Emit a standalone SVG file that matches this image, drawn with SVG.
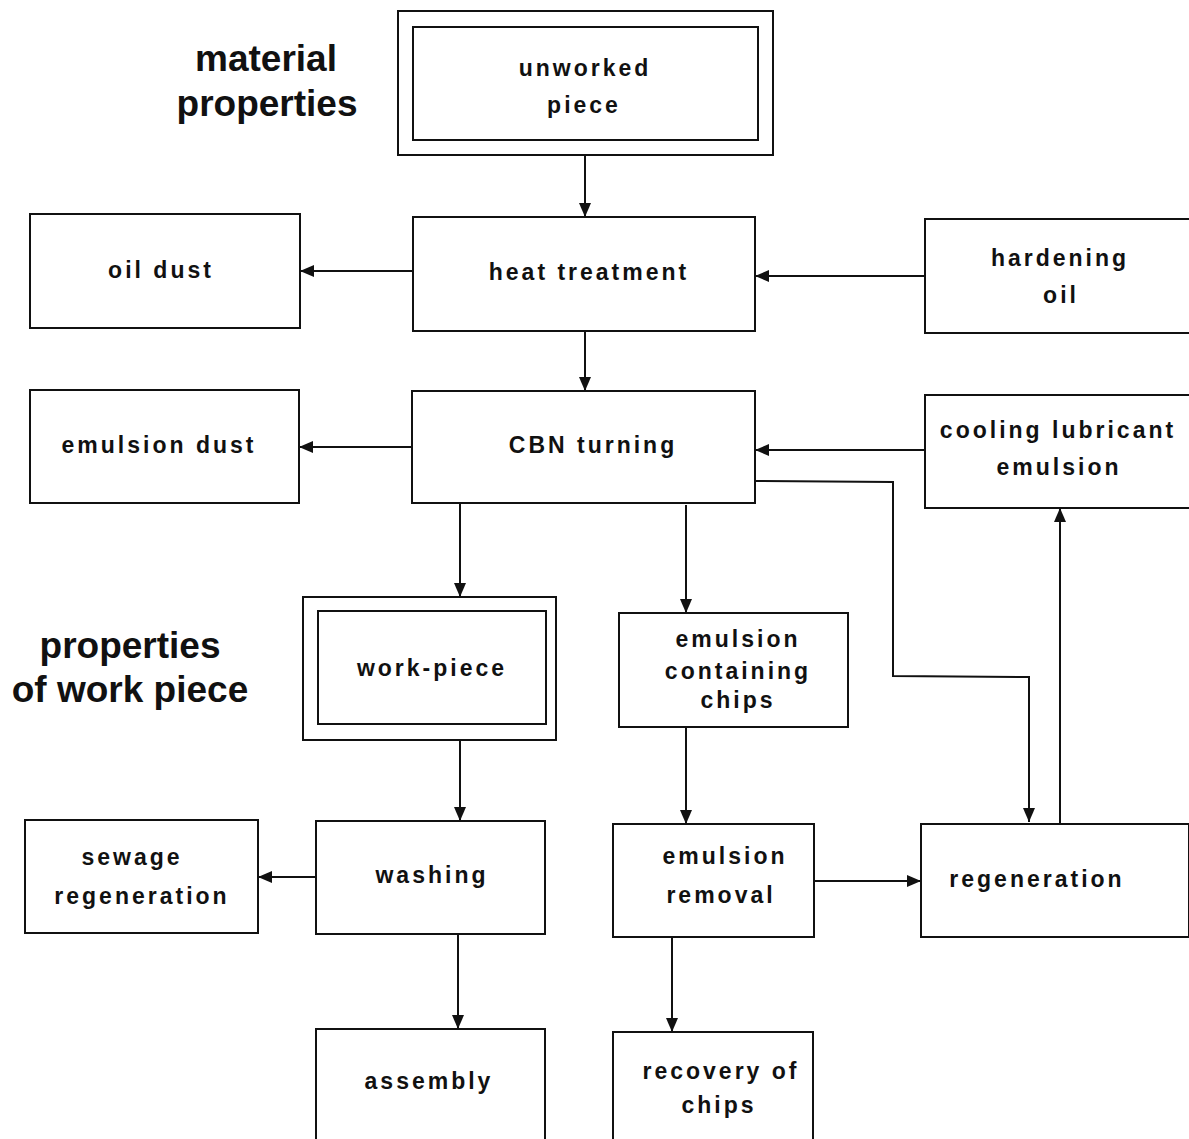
<svg xmlns="http://www.w3.org/2000/svg" width="1189" height="1139" viewBox="0 0 1189 1139">
<defs>
<style>
.box{fill:#fff;stroke:#111;stroke-width:2}
.t{font-family:"Liberation Sans",Arial,sans-serif;font-weight:bold;font-size:23px;letter-spacing:3px;fill:#111;text-anchor:middle}
.h{font-family:"Liberation Sans",Arial,sans-serif;font-weight:bold;font-size:37px;fill:#111;text-anchor:middle}
.c{fill:none;stroke:#111;stroke-width:2}
</style>
<marker id="ah" markerUnits="userSpaceOnUse" markerWidth="16" markerHeight="14" refX="14" refY="7" orient="auto">
<path d="M0,1 L14,7 L0,13 z" fill="#111"/>
</marker>
</defs>
<rect width="1189" height="1139" fill="#fff"/>
<g id="labels">
<text class="h" x="266" y="71">material</text>
<text class="h" x="267" y="116">properties</text>
<text class="h" x="130" y="658">properties</text>
<text class="h" x="130" y="702">of work piece</text>
</g>
<g id="connectors">
<line class="c" x1="585" y1="155" x2="585" y2="217" marker-end="url(#ah)"/>
<line class="c" x1="413" y1="271" x2="300" y2="271" marker-end="url(#ah)"/>
<line class="c" x1="925" y1="276" x2="755" y2="276" marker-end="url(#ah)"/>
<line class="c" x1="585" y1="331" x2="585" y2="391" marker-end="url(#ah)"/>
<line class="c" x1="412" y1="447" x2="299" y2="447" marker-end="url(#ah)"/>
<line class="c" x1="925" y1="450" x2="755" y2="450" marker-end="url(#ah)"/>
<polyline class="c" points="755,481 893,482 893,676 1029,677 1029,822" marker-end="url(#ah)"/>
<line class="c" x1="1060" y1="824" x2="1060" y2="508" marker-end="url(#ah)"/>
<line class="c" x1="460" y1="503" x2="460" y2="597" marker-end="url(#ah)"/>
<line class="c" x1="686" y1="505" x2="686" y2="613" marker-end="url(#ah)"/>
<line class="c" x1="460" y1="740" x2="460" y2="821" marker-end="url(#ah)"/>
<line class="c" x1="316" y1="877" x2="258" y2="877" marker-end="url(#ah)"/>
<line class="c" x1="458" y1="934" x2="458" y2="1029" marker-end="url(#ah)"/>
<line class="c" x1="686" y1="727" x2="686" y2="824" marker-end="url(#ah)"/>
<line class="c" x1="814" y1="881" x2="921" y2="881" marker-end="url(#ah)"/>
<line class="c" x1="672" y1="937" x2="672" y2="1032" marker-end="url(#ah)"/>
</g>
<g id="unworked-piece">
<rect class="box" x="398" y="11" width="375" height="144"/>
<rect class="box" x="413" y="27" width="345" height="113"/>
<text class="t" x="585" y="76">unworked</text>
<text class="t" x="584" y="113">piece</text>
</g>
<g id="heat-treatment">
<rect class="box" x="413" y="217" width="342" height="114"/>
<text class="t" x="589" y="280">heat treatment</text>
</g>
<g id="oil-dust">
<rect class="box" x="30" y="214" width="270" height="114"/>
<text class="t" x="161" y="278">oil dust</text>
</g>
<g id="hardening-oil">
<rect class="box" x="925" y="219" width="270" height="114"/>
<text class="t" x="1060" y="266">hardening</text>
<text class="t" x="1061" y="303">oil</text>
</g>
<g id="cbn-turning">
<rect class="box" x="412" y="391" width="343" height="112"/>
<text class="t" x="593" y="453">CBN turning</text>
</g>
<g id="emulsion-dust">
<rect class="box" x="30" y="390" width="269" height="113"/>
<text class="t" x="159" y="453">emulsion dust</text>
</g>
<g id="cooling-lubricant-emulsion">
<rect class="box" x="925" y="395" width="270" height="113"/>
<text class="t" x="1058" y="438">cooling lubricant</text>
<text class="t" x="1059" y="475">emulsion</text>
</g>
<g id="work-piece">
<rect class="box" x="303" y="597" width="253" height="143"/>
<rect class="box" x="318" y="611" width="228" height="113"/>
<text class="t" x="432" y="676">work-piece</text>
</g>
<g id="emulsion-containing-chips">
<rect class="box" x="619" y="613" width="229" height="114"/>
<text class="t" x="738" y="647">emulsion</text>
<text class="t" x="738" y="679">containing</text>
<text class="t" x="738" y="708">chips</text>
</g>
<g id="washing">
<rect class="box" x="316" y="821" width="229" height="113"/>
<text class="t" x="432" y="883">washing</text>
</g>
<g id="sewage-regeneration">
<rect class="box" x="25" y="820" width="233" height="113"/>
<text class="t" x="132" y="865">sewage</text>
<text class="t" x="142" y="904">regeneration</text>
</g>
<g id="assembly">
<rect class="box" x="316" y="1029" width="229" height="120"/>
<text class="t" x="429" y="1089">assembly</text>
</g>
<g id="emulsion-removal">
<rect class="box" x="613" y="824" width="201" height="113"/>
<text class="t" x="725" y="864">emulsion</text>
<text class="t" x="721" y="903">removal</text>
</g>
<g id="regeneration">
<rect class="box" x="921" y="824" width="268" height="113"/>
<text class="t" x="1037" y="887">regeneration</text>
</g>
<g id="recovery-of-chips">
<rect class="box" x="613" y="1032" width="200" height="117"/>
<text class="t" x="721" y="1079">recovery of</text>
<text class="t" x="719" y="1113">chips</text>
</g>
</svg>
